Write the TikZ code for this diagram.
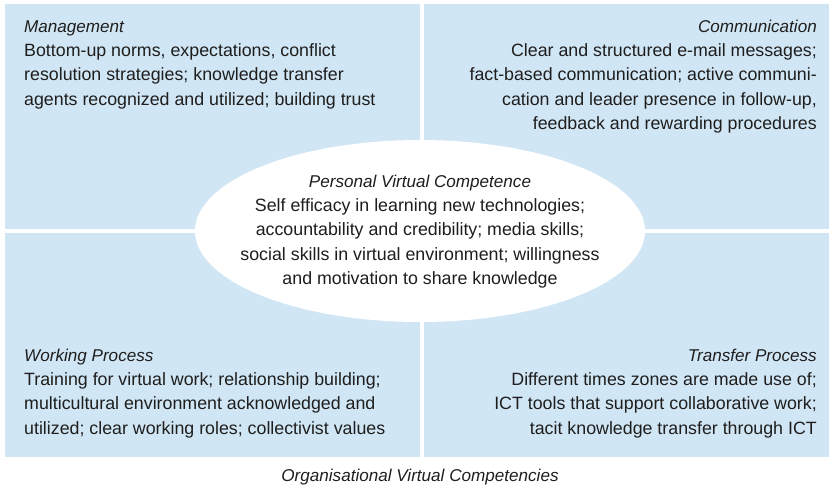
\documentclass[tikz,border=0pt]{standalone}
\usepackage{fontspec}
\setmainfont{Liberation Sans}
\usetikzlibrary{shapes.geometric}
\definecolor{quadblue}{RGB}{209,230,244}
\definecolor{inktext}{RGB}{30,30,30}
\newcommand{\qtitle}[1]{{\fontsize{17.1}{24.4}\selectfont\itshape #1}}
\begin{document}
\begin{tikzpicture}[x=1pt,y=-1pt,
  quad/.style={fill=quadblue, draw=none, inner sep=0pt, anchor=north west},
  txt/.style={inner sep=0pt, text=inktext, font=\fontsize{17.8}{24.4}\selectfont},
  oval/.style={ellipse, fill=white, draw=none, inner sep=0pt, minimum width=450pt, minimum height=182pt}]
\useasboundingbox (0,0) rectangle (829,488);
\node[quad, minimum width=415pt, minimum height=225pt] (q1) at (5,4) {};
\node[quad, minimum width=405pt, minimum height=225pt] (q2) at (424,4) {};
\node[quad, minimum width=415pt, minimum height=224pt] (q3) at (5,233) {};
\node[quad, minimum width=405pt, minimum height=224pt] (q4) at (424,233) {};
\node[oval] (pvc) at (420,231) {};
\node[txt, anchor=base, align=center] (pvct) at (420,284.6) {\qtitle{Personal Virtual Competence}\\Self efficacy in learning new technologies;\\accountability and credibility; media skills;\\social skills in virtual environment; willingness\\and motivation to share knowledge};
\node[txt, anchor=base west, align=left] (mgmt) at (24,105.2) {\qtitle{Management}\\Bottom-up norms, expectations, conflict\\resolution strategies; knowledge transfer\\agents recognized and utilized; building trust};
\node[txt, anchor=base east, align=right] (comm) at (817,129.6) {\qtitle{Communication}\\Clear and structured e-mail messages;\\fact-based communication; active communi-\\cation and leader presence in follow-up,\\feedback and rewarding procedures};
\node[txt, anchor=base west, align=left] (work) at (24,434.2) {\qtitle{Working Process}\\Training for virtual work; relationship building;\\multicultural environment acknowledged and\\utilized; clear working roles; collectivist values};
\node[txt, anchor=base east, align=right] (trans) at (817,434.2) {\qtitle{Transfer Process}\\Different times zones are made use of;\\ICT tools that support collaborative work;\\tacit knowledge transfer through ICT};
\node[txt, anchor=base] (cap) at (420,481) {\qtitle{Organisational Virtual Competencies}};
\end{tikzpicture}
\end{document}
